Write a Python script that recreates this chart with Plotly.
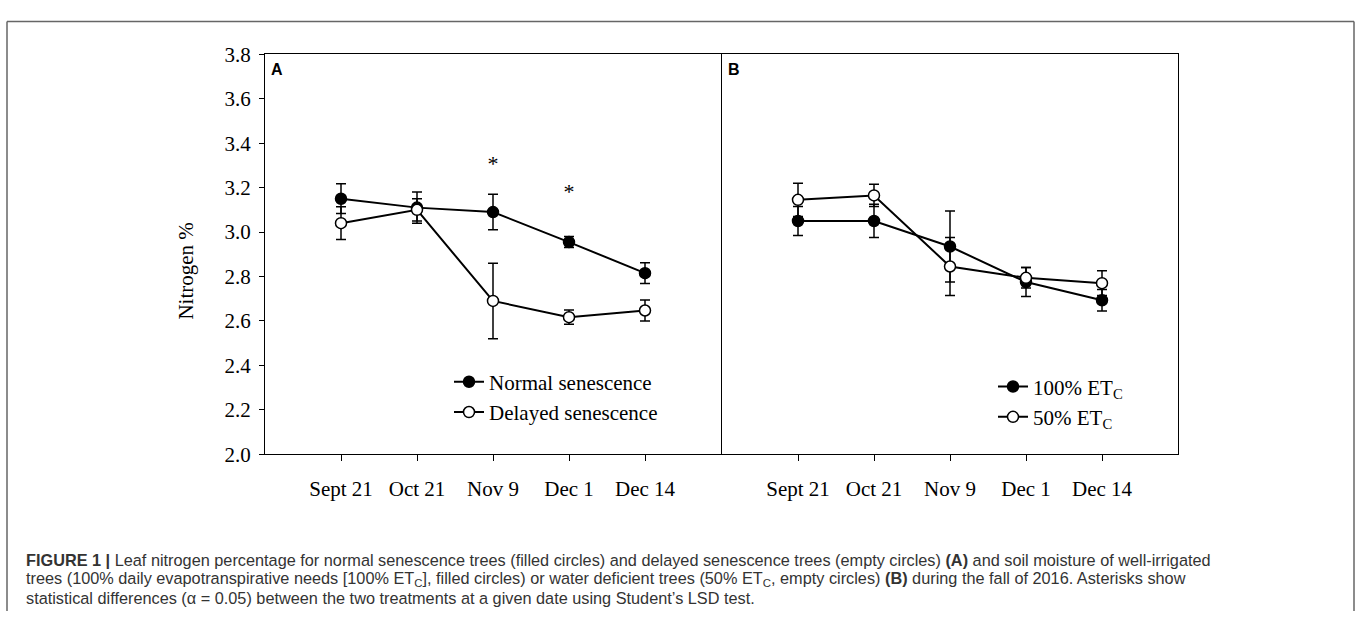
import plotly.graph_objects as go

# ---------------- data ----------------
dates = ["Sept 21", "Oct 21", "Nov 9", "Dec 1", "Dec 14"]
y_ticks = [2.0, 2.2, 2.4, 2.6, 2.8, 3.0, 3.2, 3.4, 3.6, 3.8]

normal = [3.15, 3.11, 3.09, 2.955, 2.815]
normal_err = [0.067, 0.07, 0.08, 0.025, 0.047]
delayed = [3.04, 3.10, 2.69, 2.617, 2.647]
delayed_err = [0.074, 0.05, 0.17, 0.032, 0.047]

etc100 = [3.05, 3.05, 2.935, 2.775, 2.693]
etc100_err = [0.065, 0.075, 0.16, 0.065, 0.048]
etc50 = [3.145, 3.165, 2.845, 2.794, 2.77]
etc50_err = [0.075, 0.05, 0.13, 0.046, 0.056]

asterisk_dates = ["Nov 9", "Dec 1"]
asterisk_y = [3.30, 3.175]

caption_lines = [
    "<b>FIGURE 1 |</b> Leaf nitrogen percentage for normal senescence trees (filled circles) and delayed senescence trees (empty circles) <b>(A)</b> and soil moisture of well-irrigated",
    "trees (100% daily evapotranspirative needs [100% ET<sub>C</sub>], filled circles) or water deficient trees (50% ET<sub>C</sub>, empty circles) <b>(B)</b> during the fall of 2016. Asterisks show",
    "statistical differences (\u03b1 = 0.05) between the two treatments at a given date using Student\u2019s LSD test.",
]

# ---------------- layout helpers ----------------
W, H = 1357, 623
def px(x):
    return x / W
def py(y):
    return 1 - y / H

SERIF = "Liberation Serif, Times New Roman, serif"
SANS = "Liberation Sans, Arial, sans-serif"

fig = go.Figure()

def add_series(xa, ya, yvals, err, filled, name, legend):
    fig.add_trace(go.Scatter(
        x=dates, y=yvals, xaxis=xa, yaxis=ya, name=name, legend=legend,
        mode="lines+markers",
        line=dict(color="black", width=2),
        marker=dict(size=11, color="black" if filled else "white",
                    line=dict(color="black", width=1.5)),
        error_y=dict(type="data", array=err, visible=True, color="black",
                     thickness=1.5, width=5),
    ))

add_series("x", "y", normal, normal_err, True, "Normal senescence", "legend")
add_series("x", "y", delayed, delayed_err, False, "Delayed senescence", "legend")
add_series("x2", "y2", etc100, etc100_err, True, "100% ET<sub>C</sub>", "legend2")
add_series("x2", "y2", etc50, etc50_err, False, "50% ET<sub>C</sub>", "legend2")

fig.add_trace(go.Scatter(
    x=asterisk_dates, y=asterisk_y, xaxis="x", yaxis="y", mode="text",
    text=["*"] * len(asterisk_dates), textfont=dict(family=SERIF, size=22, color="black"),
    showlegend=False, hoverinfo="skip",
))

axis_common = dict(
    showline=True, linecolor="black", linewidth=1, mirror=True,
    showgrid=False, zeroline=False,
)

fig.update_layout(
    width=W, height=H,
    margin=dict(l=0, r=0, t=0, b=0),
    paper_bgcolor="white", plot_bgcolor="white",
    xaxis=dict(domain=[px(265), px(721)], type="category", range=[-1, 5],
               ticks="outside", ticklen=6, tickcolor="black",
               tickfont=dict(family=SERIF, size=21, color="black"),
               ticklabelstandoff=10, anchor="y", **axis_common),
    yaxis=dict(domain=[py(460), py(44)], range=[2.0, 3.8], tickvals=y_ticks,
               tickformat=".1f", ticks="outside", ticklen=5, tickcolor="black",
               tickfont=dict(family=SERIF, size=21, color="black"),
               ticklabelstandoff=4, anchor="x", **axis_common),
    xaxis2=dict(domain=[px(722), px(1178)], type="category", range=[-1, 5],
                ticks="outside", ticklen=6, tickcolor="black",
                tickfont=dict(family=SERIF, size=21, color="black"),
                ticklabelstandoff=10, anchor="y2", **axis_common),
    yaxis2=dict(domain=[py(460), py(44)], range=[2.0, 3.8], tickvals=y_ticks,
                showticklabels=False, ticks="", anchor="x2", **axis_common),
    legend=dict(x=px(449), y=py(400.5), xanchor="left", yanchor="middle",
                bgcolor="rgba(0,0,0,0)", borderwidth=0,
                font=dict(family=SERIF, size=21, color="black"),
                tracegroupgap=0, itemwidth=30),
    legend2=dict(x=px(993), y=py(405.5), xanchor="left", yanchor="middle",
                 bgcolor="rgba(0,0,0,0)", borderwidth=0,
                 font=dict(family=SERIF, size=21, color="black"),
                 tracegroupgap=0, itemwidth=30),
    showlegend=True,
)

annotations = [
    dict(text="Nitrogen %", x=px(186), y=py(270), xref="paper", yref="paper",
         textangle=-90, showarrow=False, xanchor="center", yanchor="middle",
         font=dict(family=SERIF, size=21, color="black")),
    dict(text="<b>A</b>", x=px(269), y=py(60), xref="paper", yref="paper",
         showarrow=False, xanchor="left", yanchor="middle",
         font=dict(family=SANS, size=16, color="black")),
    dict(text="<b>B</b>", x=px(726), y=py(60), xref="paper", yref="paper",
         showarrow=False, xanchor="left", yanchor="middle",
         font=dict(family=SANS, size=16, color="black")),
]
for line, yy in zip(caption_lines, [570.0, 589.5, 609.0]):
    annotations.append(dict(
        text=line, x=px(25), y=py(yy), xref="paper", yref="paper",
        showarrow=False, xanchor="left", yanchor="middle", align="left",
        borderpad=0,
        font=dict(family=SANS, size=16.3, color="#333333")))
fig.update_layout(annotations=annotations)

frame = dict(color="#666666", width=1.5)
fig.update_layout(shapes=[
    dict(type="line", xref="paper", yref="paper", x0=px(7), x1=px(1354), y0=py(10), y1=py(10), line=frame),
    dict(type="line", xref="paper", yref="paper", x0=px(7), x1=px(7), y0=py(10), y1=py(623), line=frame),
    dict(type="line", xref="paper", yref="paper", x0=px(1354), x1=px(1354), y0=py(10), y1=py(623), line=frame),
])

fig.write_html("out.html")
